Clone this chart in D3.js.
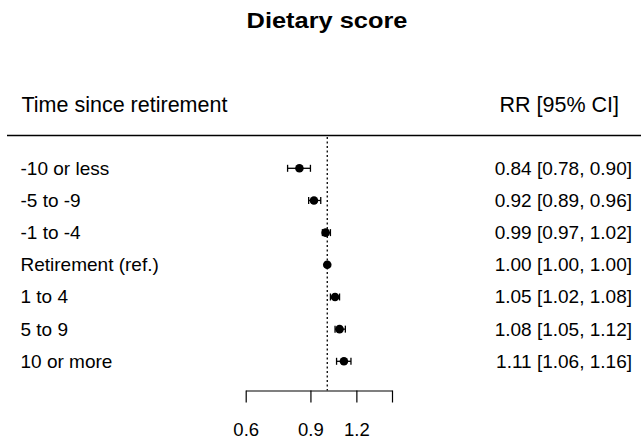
<!DOCTYPE html>
<html><head><meta charset="utf-8">
<script src="https://cdn.jsdelivr.net/npm/d3@7"></script>
<style>body{margin:0;background:#fff}svg{display:block}text{font-family:"Liberation Sans",Arial,sans-serif;fill:#000}</style>
</head><body>
<svg id="c" width="641" height="444"></svg>
<script>
const title = "Dietary score";
const colHeaderLeft = "Time since retirement";
const colHeaderRight = "RR [95% CI]";
const categories = ["-10 or less","-5 to -9","-1 to -4","Retirement (ref.)","1 to 4","5 to 9","10 or more"];
const estimates = [0.84,0.92,0.99,1.00,1.05,1.08,1.11];
const lower = [0.78,0.89,0.97,1.00,1.02,1.05,1.06];
const upper = [0.90,0.96,1.02,1.00,1.08,1.12,1.16];
const tickValues = [0.6,0.9,1.2,1.5];
const tickLabels = ["0.6","0.9","1.2",""];

const svg = d3.select("#c");
const x = d3.scaleLog().domain([0.6,1.5]).range([245.7,392]);
const y = d3.scalePoint().domain(categories).range([168.3,361.3]);
const fs = 19;

svg.append("text").attr("transform","translate(327,28.3) scale(1.155,1)").attr("text-anchor","middle")
  .attr("font-weight","bold").attr("font-size",22).text(title);
svg.append("text").attr("x",21.5).attr("y",111.5).attr("font-size",21.5).text(colHeaderLeft);
svg.append("text").attr("x",619).attr("y",111.5).attr("text-anchor","end").attr("font-size",21.5).text(colHeaderRight);
svg.append("line").attr("x1",7).attr("x2",641).attr("y1",135.5).attr("y2",135.5)
  .attr("stroke","#000").attr("stroke-width",1.6);

// reference line
svg.append("line").attr("x1",x(1)).attr("x2",x(1)).attr("y1",137).attr("y2",390.5)
  .attr("stroke","#000").attr("stroke-width",1.3).attr("stroke-dasharray","2,2.5");

// axis
const axis = d3.axisBottom(x).tickValues(tickValues).tickFormat((d,i)=>tickLabels[i]).tickSize(12).tickSizeOuter(0);
const ag = svg.append("g").attr("transform","translate(0,390.5)").call(axis);
ag.select(".domain").attr("stroke","#000").attr("stroke-width",1.2);
ag.selectAll(".tick line").attr("stroke","#000").attr("stroke-width",1.2);
ag.selectAll(".tick text").attr("font-size",18.5).attr("font-family","Liberation Sans, Arial, sans-serif").attr("fill","#000").attr("dy",0).attr("y",45.8);

const rows = svg.append("g").selectAll("g").data(categories).join("g");
rows.append("text").attr("x",20.5).attr("y",d=>y(d)+6.5).attr("font-size",fs).text(d=>d);
rows.append("text").attr("x",632).attr("y",d=>y(d)+6.5).attr("text-anchor","end").attr("font-size",fs)
  .text((d,i)=>`${estimates[i].toFixed(2)} [${lower[i].toFixed(2)}, ${upper[i].toFixed(2)}]`);
rows.append("line").attr("x1",(d,i)=>x(lower[i])).attr("x2",(d,i)=>x(upper[i]))
  .attr("y1",d=>y(d)).attr("y2",d=>y(d)).attr("stroke","#000").attr("stroke-width",1.3);
rows.each(function(d,i){
  const g=d3.select(this);
  [lower[i],upper[i]].forEach(v=>{
    g.append("line").attr("x1",x(v)).attr("x2",x(v)).attr("y1",y(d)-3.5).attr("y2",y(d)+3.5)
      .attr("stroke","#000").attr("stroke-width",1.3);
  });
});
rows.append("circle").attr("cx",(d,i)=>x(estimates[i])).attr("cy",d=>y(d)).attr("r",4.3).attr("fill","#000");
</script>
</body></html>
